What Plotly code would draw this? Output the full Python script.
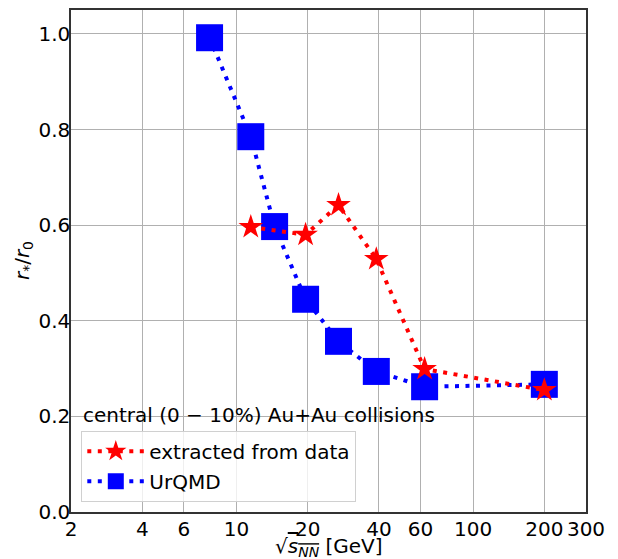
import plotly.graph_objects as go

# Data
energy_data = [11.5, 19.6, 27, 39, 62.4, 200]
r_data = [0.596, 0.580, 0.642, 0.529, 0.299, 0.255]

energy_urqmd = [7.7, 11.5, 14.5, 19.6, 27, 39, 62.4, 200]
r_urqmd = [0.992, 0.785, 0.597, 0.445, 0.357, 0.294, 0.262, 0.267]

x_ticks = [2, 4, 6, 10, 20, 40, 60, 100, 200, 300]
y_ticks = [0.0, 0.2, 0.4, 0.6, 0.8, 1.0]

FONT = "DejaVu Sans"
FS = 20

fig = go.Figure()
fig.add_trace(go.Scatter(
    x=energy_urqmd, y=r_urqmd, mode="lines+markers", name="UrQMD",
    legendgroup="b", legendrank=2,
    line=dict(color="#0000ff", width=4, dash="4px,6.5px"),
    marker=dict(symbol="square", size=27, color="#0000ff"),
))
fig.add_trace(go.Scatter(
    x=energy_data, y=r_data, mode="lines+markers", name="extracted from data",
    legendgroup="a", legendrank=1,
    line=dict(color="#ff0000", width=4, dash="4px,6.5px"),
    marker=dict(symbol="star", size=18.5, color="#ff0000"),
))

fig.update_layout(
    width=618, height=559,
    margin=dict(l=71, r=32, t=10, b=47),
    paper_bgcolor="white", plot_bgcolor="white",
    font=dict(family=FONT, size=FS, color="black"),
    showlegend=True,
    legend=dict(
        x=0.02, y=0.162, xanchor="left", yanchor="top",
        traceorder="grouped", tracegroupgap=1,
        bgcolor="rgba(255,255,255,0.8)", bordercolor="#d0d0d0", borderwidth=1,
        font=dict(family=FONT, size=FS),
        itemsizing="trace", itemwidth=57,
    ),
    xaxis=dict(
        type="log", range=[0.30103, 2.4771],
        tickvals=x_ticks, ticktext=[str(v) for v in x_ticks],
        tickangle=0, automargin=False,
        ticks="outside", ticklen=1, tickcolor="rgba(0,0,0,0)", ticklabelstandoff=-3,
        showgrid=True, gridcolor="#b0b0b0", gridwidth=1,
        showline=True, linecolor="#333333", linewidth=1.5, mirror=True,
        zeroline=False,
        tickfont=dict(family=FONT, size=FS),
    ),
    yaxis=dict(
        range=[0, 1.05], automargin=False,
        ticks="outside", ticklen=1, tickcolor="rgba(0,0,0,0)", ticklabelstandoff=-6,
        tickvals=y_ticks, ticktext=[f"{v:.1f}" for v in y_ticks],
        showgrid=True, gridcolor="#b0b0b0", gridwidth=1,
        showline=True, linecolor="#333333", linewidth=1.5, mirror=True,
        zeroline=False,
        tickfont=dict(family=FONT, size=FS),
    ),
    annotations=[
        dict(
            text="central (0 − 10%) Au+Au collisions",
            xref="paper", yref="paper", x=0.02, y=0.1934,
            xanchor="left", yanchor="middle", showarrow=False,
            font=dict(family=FONT, size=FS, color="black"),
        ),
        dict(
            text="√<span style='text-decoration:overline'><i>s</i><sub><i>NN</i></sub></span> [GeV]",
            xref="paper", yref="paper", x=0.5, y=-0.069,
            xanchor="center", yanchor="middle", showarrow=False,
            font=dict(family=FONT, size=FS, color="black"),
        ),
        dict(
            text="<i>r</i><sub>*</sub>/<i>r</i><sub>0</sub>",
            xref="paper", yref="paper", x=-0.093, y=0.5,
            xanchor="center", yanchor="middle", showarrow=False, textangle=-90,
            font=dict(family=FONT, size=FS, color="black"),
        ),
    ],
)

fig.write_html("out.html")
